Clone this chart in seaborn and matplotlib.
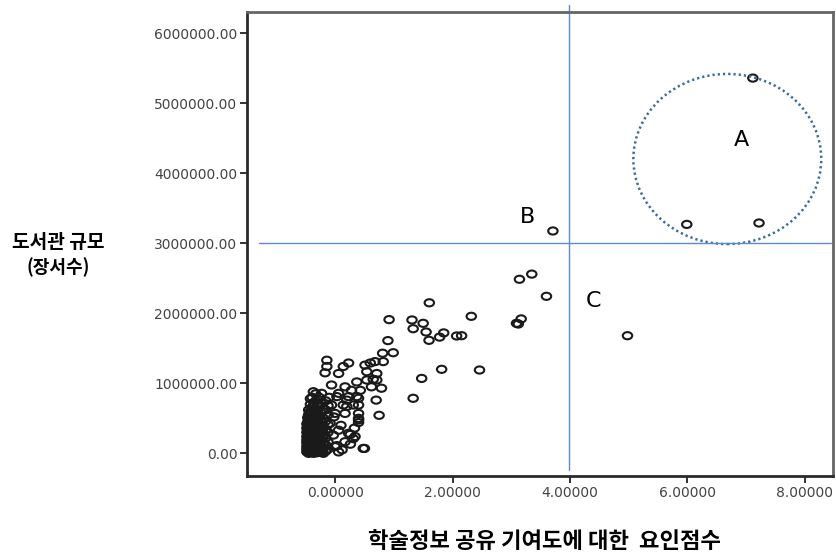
import numpy as np
import pandas as pd
import matplotlib
matplotlib.use("Agg")
import matplotlib.pyplot as plt
from matplotlib.path import Path
from matplotlib.patches import Ellipse
import seaborn as sns

# ---- data (factor score, library size in millions of volumes) ----
outer_x = [7.115, 5.99, 7.22, 3.71, 3.35, 3.14, 3.60, 4.98]
outer_y = [5.36, 3.27, 3.29, 3.176, 2.56, 2.486, 2.243, 1.68]

mid_x = [1.605, 0.92, 1.31, 1.50, 1.33, 1.55, 1.85, 1.78, 1.60, 2.07, 2.155, 2.32,
         3.17, 3.12, 3.09, 0.90, 0.81, 0.99, 1.815, 2.46, 1.475, 1.33, 0.70, 0.75, 0.50,
         -0.14, -0.14, -0.17, 0.06, 0.14, 0.23, 0.51, 0.60, 0.68, 0.54, 0.71, 0.65,
         0.54, 0.71, 0.82, -0.06, 0.17, 0.37, 0.43, 0.28, 0.06, -0.37, -0.23, 0.62,
         0.79, 0.03, 0.23, 0.40, -0.26, -0.06, 0.14, 0.31, 0.40, 0.40, 0.00, 0.17,
         0.06, 0.23, 0.31, 0.17, 0.48, 0.00, 0.06, -0.085, -0.03, 0.26, 0.34, 0.26,
         0.03, 0.40, 0.40, 0.20, 0.40, 0.37, 0.20, -0.10, 0.10, 0.33, -0.02, 0.12]
mid_y = [2.15, 1.91, 1.905, 1.857, 1.78, 1.733, 1.72, 1.66, 1.614, 1.676, 1.68, 1.957,
         1.92, 1.847, 1.857, 1.61, 1.43, 1.437, 1.20, 1.19, 1.07, 0.786, 0.76, 0.543, 0.07,
         1.33, 1.24, 1.15, 1.14, 1.24, 1.29, 1.26, 1.29, 1.31, 1.166, 1.14, 1.057,
         1.047, 1.047, 1.31, 0.976, 0.95, 1.02, 0.90, 0.90, 0.857, 0.88, 0.857, 0.95,
         0.93, 0.81, 0.81, 0.786, 0.69, 0.69, 0.69, 0.69, 0.57, 0.476, 0.57, 0.57,
         0.33, 0.286, 0.21, 0.166, 0.07, 0.095, 0.02, 0.43, 0.26, 0.27, 0.24, 0.13,
         0.11, 0.50, 0.44, 0.67, 0.69, 0.81, 0.76, 0.80, 0.40, 0.36, 0.52, 0.05]

dense_x = ([-0.48] * 9 + [-0.45] * 12 + [-0.42] * 13 + [-0.39] * 12 + [-0.36] * 11 +
           [-0.33] * 11 + [-0.30] * 9 + [-0.27] * 9 + [-0.24] * 7 + [-0.20] * 7 +
           [-0.16] * 7 + [-0.12] * 6 +
           [-0.465] * 10 + [-0.435] * 10 + [-0.405] * 9 + [-0.375] * 9 + [-0.345] * 8 +
           [-0.315] * 7 + [-0.285] * 6 + [-0.255] * 5 + [-0.22] * 5)
dense_y = [0.02, 0.06, 0.10, 0.15, 0.19, 0.24, 0.30, 0.36, 0.42,
           0.00, 0.04, 0.08, 0.12, 0.17, 0.21, 0.26, 0.33, 0.40, 0.47, 0.55, 0.62,
           0.01, 0.05, 0.09, 0.13, 0.18, 0.23, 0.28, 0.35, 0.44, 0.52, 0.60, 0.70, 0.78,
           0.02, 0.06, 0.11, 0.16, 0.20, 0.25, 0.31, 0.38, 0.46, 0.58, 0.66, 0.80,
           0.00, 0.04, 0.09, 0.14, 0.19, 0.27, 0.34, 0.43, 0.50, 0.63, 0.72,
           0.03, 0.07, 0.12, 0.17, 0.23, 0.30, 0.39, 0.48, 0.56, 0.75, 0.85,
           0.01, 0.06, 0.11, 0.20, 0.28, 0.37, 0.45, 0.61, 0.70,
           0.02, 0.08, 0.15, 0.24, 0.33, 0.42, 0.53, 0.66, 0.80,
           0.04, 0.10, 0.18, 0.29, 0.40, 0.58, 0.72,
           0.00, 0.07, 0.14, 0.26, 0.36, 0.50, 0.63,
           0.03, 0.12, 0.22, 0.34, 0.46, 0.62, 0.75,
           0.06, 0.16, 0.30, 0.41, 0.55, 0.68,
           0.04, 0.08, 0.13, 0.17, 0.22, 0.27, 0.33, 0.39, 0.45, 0.51,
           0.02, 0.07, 0.11, 0.15, 0.20, 0.24, 0.30, 0.37, 0.43, 0.58,
           0.03, 0.07, 0.12, 0.16, 0.21, 0.26, 0.32, 0.40, 0.48,
           0.01, 0.05, 0.09, 0.14, 0.19, 0.23, 0.29, 0.35, 0.53,
           0.02, 0.06, 0.11, 0.16, 0.22, 0.31, 0.38, 0.46,
           0.04, 0.09, 0.14, 0.20, 0.26, 0.34, 0.44,
           0.03, 0.08, 0.16, 0.24, 0.32, 0.50,
           0.05, 0.12, 0.20, 0.37, 0.47,
           0.02, 0.10, 0.19, 0.31, 0.44]

x_ticks = [0, 2, 4, 6, 8]
x_tick_labels = ["0.00000", "2.00000", "4.00000", "6.00000", "8.00000"]
y_ticks = [0, 1e6, 2e6, 3e6, 4e6, 5e6, 6e6]
y_tick_labels = ["0.00", "1000000.00", "2000000.00", "3000000.00",
                 "4000000.00", "5000000.00", "6000000.00"]
x_label = "학술정보 공유 기여도에 대한  요인점수"
y_label_1 = "도서관 규모"
y_label_2 = "(장서수)"
group_labels = ["A", "B", "C"]

xs = outer_x + mid_x + dense_x
ys = [v * 1e6 for v in outer_y + mid_y + dense_y]
df = pd.DataFrame({"score": xs, "books": ys})

sns.set_theme(style="white")
plt.rcParams["font.family"] = ["DejaVu Sans"]
kfont = ["Noto Sans CJK KR", "DejaVu Sans"]

fig = plt.figure(figsize=(8.36, 5.55), dpi=100)
ax = fig.add_axes([247 / 836, 1 - 476 / 555, (833 - 247) / 836, (476 - 12) / 555])

# slightly flattened open circle marker
circ = Path.unit_circle()
ell_marker = Path(circ.vertices * np.array([1.0, 0.76]), circ.codes)

sns.scatterplot(data=df, x="score", y="books", ax=ax, marker=ell_marker,
                s=46, facecolors="none", edgecolors="#1a1a1a", linewidths=1.5,
                legend=False)
for coll in ax.collections:
    coll.set_facecolor("none")
    coll.set_edgecolor("#1a1a1a")

ax.set_xlim(-1.5, 8.48)
ax.set_ylim(-0.324e6, 6.304e6)
ax.set_xticks(x_ticks)
ax.set_xticklabels(x_tick_labels)
ax.set_yticks(y_ticks)
ax.set_yticklabels(y_tick_labels)
ax.tick_params(axis="both", direction="out", length=5, width=1.4, color="#333333",
               labelsize=10, labelcolor="#444444", pad=2)
ax.tick_params(axis="both", bottom=True, left=True)
ax.set_xlabel("")
ax.set_ylabel("")
for side in ["left", "bottom"]:
    ax.spines[side].set_color("#2a2a2a")
    ax.spines[side].set_linewidth(2.0)
for side in ["top", "right"]:
    ax.spines[side].set_color("#666666")
    ax.spines[side].set_linewidth(2.0)

# reference lines
line_c = "#5b8bd0"
ax.plot([-1.29, 8.45], [3.0e6, 3.0e6], color=line_c, lw=1.0, clip_on=False)
ax.plot([3.98, 3.98], [-0.24e6, 6.4e6], color=line_c, lw=1.0, clip_on=False)

# dotted ellipse around group A
ax.add_patch(Ellipse((6.68, 4.204e6), 3.2, 2.43e6, fill=False,
                     edgecolor="#3f6a9c", lw=1.8, linestyle=(0, (0.9, 1.2))))

ax.text(6.92, 4.476e6, group_labels[0], fontsize=16, ha="center", va="center", color="black")
ax.text(3.28, 3.371e6, group_labels[1], fontsize=16, ha="center", va="center", color="black")
ax.text(4.40, 2.18e6, group_labels[2], fontsize=16, ha="center", va="center", color="black")

fig.text(58 / 836, 1 - 243 / 555, y_label_1, family=kfont, fontsize=13.8,
         fontweight="bold", ha="center", va="center", color="black")
fig.text(58 / 836, 1 - 267 / 555, y_label_2, family=kfont, fontsize=13,
         fontweight="bold", ha="center", va="center", color="black")
fig.text(544 / 836, 1 - 541 / 555, x_label, family=kfont, fontsize=16,
         fontweight="bold", ha="center", va="center", color="black")

fig.savefig("out.png", dpi=100)
